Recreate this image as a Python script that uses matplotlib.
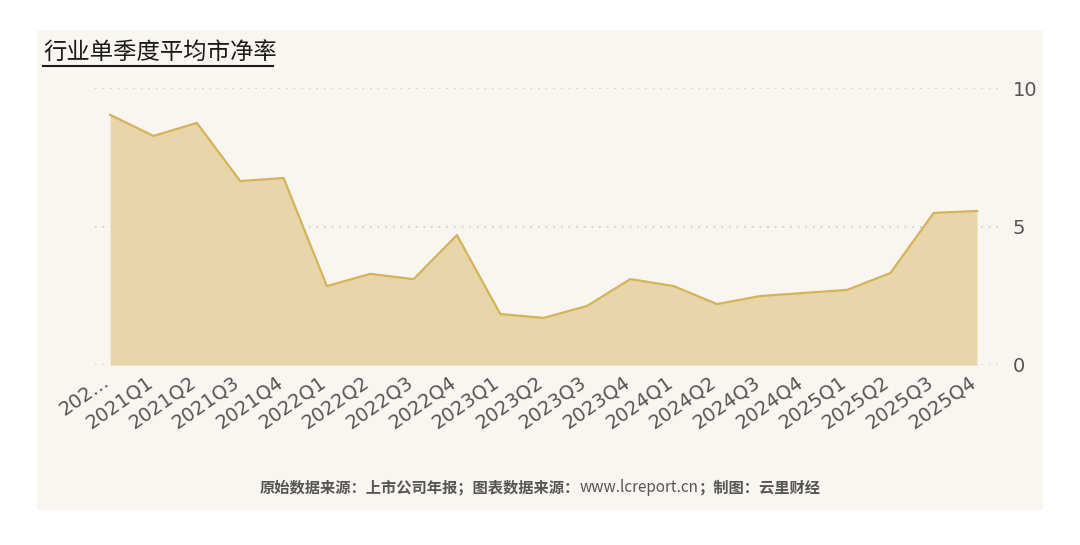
import matplotlib
matplotlib.use("Agg")
import matplotlib.pyplot as plt
import matplotlib.transforms as mtransforms
from matplotlib.patches import Rectangle
from matplotlib.lines import Line2D

plt.rcParams['font.family'] = ['Noto Sans CJK SC', 'DejaVu Sans']

# data
quarters = ['202...', '2021Q1', '2021Q2', '2021Q3', '2021Q4',
            '2022Q1', '2022Q2', '2022Q3', '2022Q4',
            '2023Q1', '2023Q2', '2023Q3', '2023Q4',
            '2024Q1', '2024Q2', '2024Q3', '2024Q4',
            '2025Q1', '2025Q2', '2025Q3', '2025Q4']
net_rate = [9.03, 8.27, 8.74, 6.64, 6.75,
            2.85, 3.29, 3.10, 4.69,
            1.84, 1.70, 2.13, 3.10,
            2.85, 2.20, 2.49, 2.60,
            2.71, 3.32, 5.49, 5.56]
y_ticks = [0, 5, 10]

title = '行业单季度平均市净率'
footer_parts = [('原始数据来源：上市公司年报；图表数据来源：', 'bold'),
                ('www.lcreport.cn', 'normal'),
                ('；制图：云里财经', 'bold')]

fig = plt.figure(figsize=(10.8, 5.45), dpi=100)
fig.patch.set_facecolor('white')
fig.add_artist(Rectangle((37 / 1080, 35 / 545), 1006 / 1080, 480 / 545,
                         transform=fig.transFigure, facecolor='#f9f6f2',
                         edgecolor='none', zorder=0))

ax = fig.add_axes([95 / 1080, 180 / 545, 905 / 1080, 277 / 545])
ax.set_facecolor('none')

x = list(range(len(quarters)))
ax.fill_between(x, net_rate, 0, color='#e8d5a9', lw=0, zorder=2)
ax.plot(x, net_rate, color='#d4b458', lw=1.6, zorder=3)

ax.set_xlim(-0.35, 20.53)
ax.set_ylim(0, 10)
ax.set_yticks(y_ticks)
ax.yaxis.tick_right()
ax.tick_params(axis='y', length=0, pad=9)
for lab in ax.get_yticklabels():
    lab.set_fontfamily('DejaVu Sans')
    lab.set_fontsize(14)
    lab.set_color('#555555')
ax.grid(axis='y', color='#c8c4bf', linestyle=(0, (1, 4)), lw=1.1, zorder=1)

ax.set_xticks(x)
ax.set_xticklabels(quarters)
ax.tick_params(axis='x', length=0, pad=5)
shift = mtransforms.ScaledTranslation(-8 / 100, 0, fig.dpi_scale_trans)
for lab in ax.get_xticklabels():
    lab.set_fontfamily('DejaVu Sans')
    lab.set_fontsize(14)
    lab.set_color('#555555')
    lab.set_rotation(35)
    lab.set_ha('right')
    lab.set_rotation_mode('anchor')
    lab.set_transform(lab.get_transform() + shift)

for s in ax.spines.values():
    s.set_visible(False)

fig.text(43 / 1080, 1 - 53 / 545, title, fontsize=16.8, color='#1a1a1a',
         va='center', ha='left', fontweight='medium')
fig.add_artist(Line2D([43 / 1080, 273 / 1080], [1 - 66 / 545, 1 - 66 / 545],
                      transform=fig.transFigure, color='#1a1a1a', lw=1.5))

# footer: measure pieces, then lay them out centred
renderer = fig.canvas.get_renderer()
pieces = []
for txt, w in footer_parts:
    t = fig.text(0, 1 - 488 / 545, txt, fontsize=11, color='#555555',
                 ha='left', va='center', fontweight=w)
    pieces.append(t)
widths = [p.get_window_extent(renderer).width for p in pieces]
x0 = 540 - sum(widths) / 2
for p, w in zip(pieces, widths):
    p.set_x(x0 / 1080)
    x0 += w

fig.savefig('out.png', dpi=100, facecolor=fig.get_facecolor())
